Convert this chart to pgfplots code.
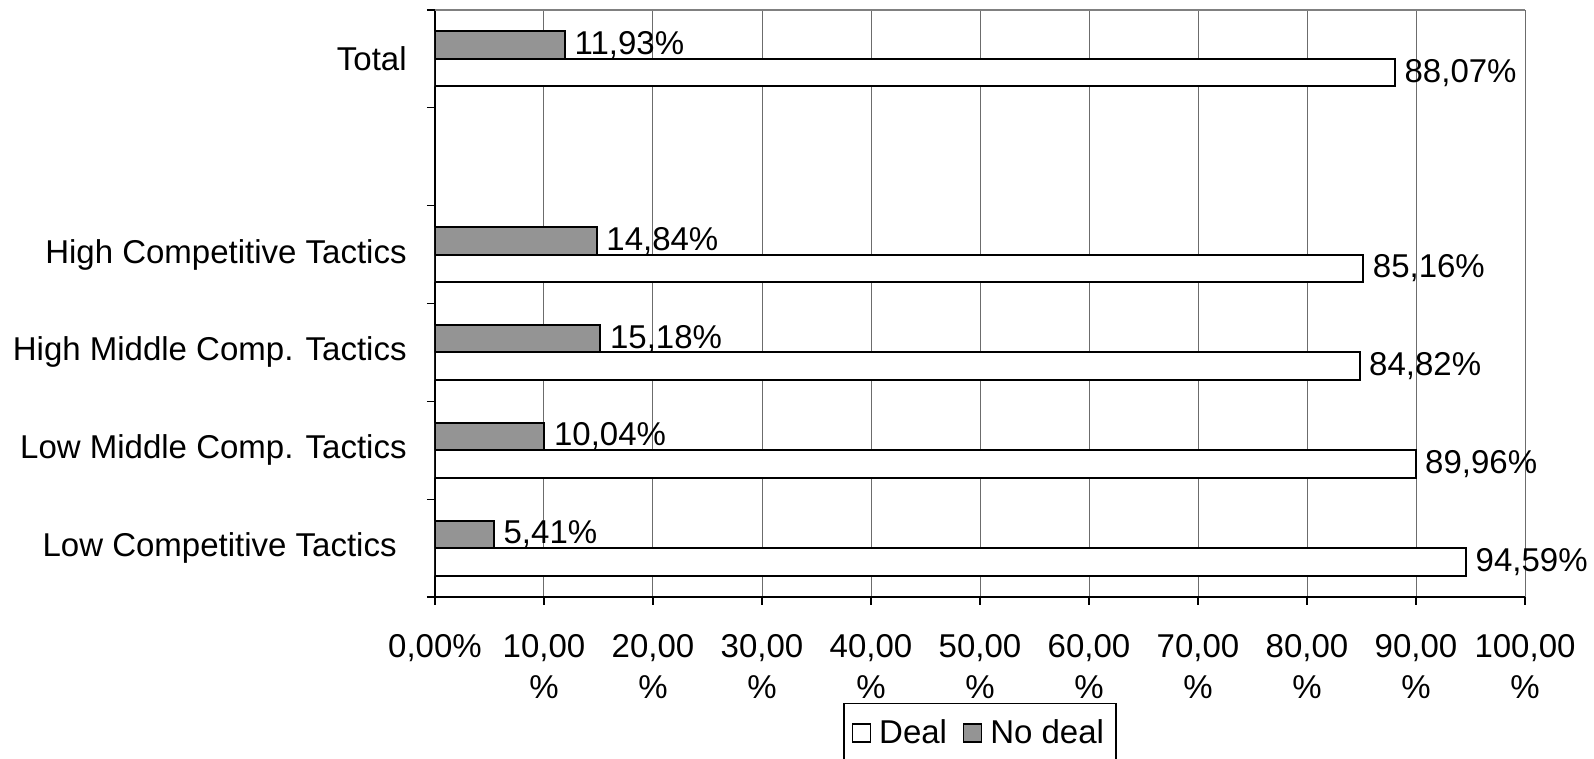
\documentclass[border=0pt]{standalone}
\usepackage{pgfplots}
\pgfplotsset{compat=1.18}
\usepackage{fontspec}
\setmainfont{Liberation Sans}
\newcommand{\cf}{\fontsize{16.5}{20.5}\selectfont}
\begin{document}
\begin{tikzpicture}
\useasboundingbox (-217.5pt,-81pt) rectangle (579.5pt,298.5pt);
\begin{axis}[
  at={(0,0)}, anchor=south west,
  scale only axis, width=545pt, height=293.5pt,
  xmin=0, xmax=100, ymin=-0.5, ymax=5.5,
  xbar, bar width=13.75pt,
  /pgf/number format/assume math mode=true,
  axis lines=left, axis line style={-, black, line width=0.7pt},
  xtick={0,10,...,100},
  xticklabels={{0,00\%},{10,00\\\%},{20,00\\\%},{30,00\\\%},{40,00\\\%},{50,00\\\%},{60,00\\\%},{70,00\\\%},{80,00\\\%},{90,00\\\%},{100,00\\\%}},
  xticklabel style={align=center, font=\cf, inner sep=0pt, yshift=-14.5pt},
  xmajorgrids, grid style={gray!85!black, line width=0.5pt},
  tick align=outside, major tick length=4pt, tick style={black, line width=0.6pt},
  ytick={-0.5,0.5,...,5.5}, yticklabels={},
  extra y ticks={0,1,2,3,5},
  extra y tick labels={Low Competitive Tactics\hspace*{5pt}, Low Middle Comp. Tactics, High Middle Comp. Tactics, High Competitive Tactics, Total},
  extra y tick style={major tick length=0pt, yticklabel style={font=\cf, inner sep=0pt, xshift=-14pt}},
  legend style={at={(0.5,-0.1806)}, anchor=north, legend columns=2, draw=black, line width=0.6pt, font=\cf, inner xsep=4pt, inner ysep=6pt,
    /tikz/every even column/.append style={column sep=6pt}},
  legend image code/.code={\draw[#1, line width=0.6pt] (0pt,-4.5pt) rectangle (9pt,4.5pt);},
  nodes near coords={\pgfmathprintnumber[fixed,fixed zerofill,precision=2,use comma]{\pgfplotspointmeta}\%},
  nodes near coords style={font=\cf, black, xshift=1pt},
  point meta=x,
]
\addplot[draw=black, fill=white, line width=1pt, bar shift=-6.875pt] coordinates {(94.59,0) (89.96,1) (84.82,2) (85.16,3) (88.07,5)};
\addplot[draw=black, fill=black!42, line width=1pt, bar shift=6.875pt] coordinates {(5.41,0) (10.04,1) (15.18,2) (14.84,3) (11.93,5)};
\legend{\hspace*{2pt}Deal, \hspace*{2pt}No deal}
\draw[gray, line width=0.7pt] (rel axis cs:0,1) -- (rel axis cs:1,1);
\end{axis}
\end{tikzpicture}
\end{document}
